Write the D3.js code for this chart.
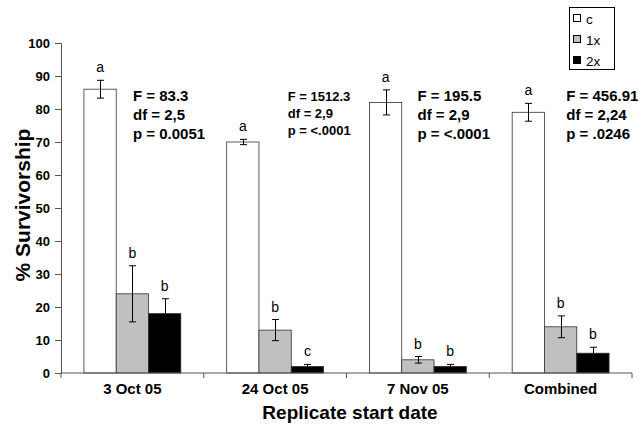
<!DOCTYPE html>
<html><head><meta charset="utf-8">
<script src="https://cdn.jsdelivr.net/npm/d3@7"></script>
<style>
body{margin:0;background:#fff;}
svg{display:block;font-family:"Liberation Sans",Arial,sans-serif;}
</style></head>
<body>
<svg id="chart" width="643" height="430"></svg>
<script>
// ---- data ----
const categories = ["3 Oct 05", "24 Oct 05", "7 Nov 05", "Combined"];
const seriesNames = ["c", "1x", "2x"];
const valuesC  = [86, 70, 82, 79];
const values1x = [24, 13, 4, 14];
const values2x = [18, 2, 2, 6];
const errC  = [2.7, 0.8, 3.8, 2.7];
const err1x = [8.5, 3.2, 1.0, 3.3];
const err2x = [4.5, 0.6, 0.6, 1.8];
const lettersC  = ["a", "a", "a", "a"];
const letters1x = ["b", "b", "b", "b"];
const letters2x = ["b", "c", "b", "b"];
const statF  = ["F = 83.3", "F = 1512.3", "F = 195.5", "F = 456.91"];
const statDf = ["df = 2,5", "df = 2,9", "df = 2,9", "df = 2,24"];
const statP  = ["p = 0.0051", "p = <.0001", "p = <.0001", "p = .0246"];
const yTicks = [0, 10, 20, 30, 40, 50, 60, 70, 80, 90, 100];

// ---- layout ----
(function(){
const svg = d3.select("#chart");
const mLeft = 61, mRight = 632, mTop = 43, mBottom = 373;
const colors = {"c": "#ffffff", "1x": "#c0c0c0", "2x": "#000000"};
const statOffsets = [72, 84, 71, 77]; // x offset of stat text from band start
const statSmall = [false, true, false, false];

const x = d3.scaleBand().domain(categories).range([mLeft, mRight]).padding(0);
const xs = d3.scaleBand().domain(seriesNames).range([0, x.bandwidth()]).paddingInner(0).paddingOuter(0.71);
const y = d3.scaleLinear().domain([0, 100]).range([mBottom, mTop]);

const vals = {"c": valuesC, "1x": values1x, "2x": values2x};
const errs = {"c": errC, "1x": err1x, "2x": err2x};
const lets = {"c": lettersC, "1x": letters1x, "2x": letters2x};

const data = [];
categories.forEach((cat, i) => {
  seriesNames.forEach(s => data.push({cat, i, s, v: vals[s][i], e: errs[s][i], l: lets[s][i]}));
});

// bars
svg.append("g").selectAll("rect").data(data).join("rect")
  .attr("x", d => x(d.cat) + xs(d.s))
  .attr("y", d => y(d.v))
  .attr("width", xs.bandwidth())
  .attr("height", d => y(0) - y(d.v))
  .attr("fill", d => colors[d.s])
  .attr("stroke", "#333")
  .attr("stroke-width", 0.8);

// error bars
const eg = svg.append("g").attr("stroke", "#000").attr("stroke-width", 1);
data.forEach(d => {
  const cx = Math.round(x(d.cat) + xs(d.s) + xs.bandwidth() / 2) + 0.5;
  const y1 = y(d.v + d.e), y2 = y(Math.max(0, d.v - d.e));
  eg.append("line").attr("x1", cx).attr("x2", cx).attr("y1", y1).attr("y2", y2);
  eg.append("line").attr("x1", cx - 3.5).attr("x2", cx + 3.5).attr("y1", y1).attr("y2", y1);
  eg.append("line").attr("x1", cx - 3.5).attr("x2", cx + 3.5).attr("y1", y2).attr("y2", y2);
});

// letters
svg.append("g").selectAll("text").data(data).join("text")
  .attr("x", d => x(d.cat) + xs(d.s) + xs.bandwidth() / 2)
  .attr("y", d => y(d.v + d.e) - 8)
  .attr("text-anchor", "middle")
  .attr("font-size", 14)
  .attr("fill", "#000")
  .text(d => d.l);

// axes
const yAxis = d3.axisLeft(y).tickValues(yTicks).tickSize(6).tickPadding(5).tickFormat(d3.format("d"));
const gy = svg.append("g").attr("transform", `translate(${mLeft},0)`).call(yAxis);
gy.select(".domain").attr("stroke", "#555");
gy.selectAll(".tick line").attr("stroke", "#555");
gy.selectAll(".tick text").attr("font-size", 13).attr("font-weight", "bold").attr("fill", "#000")
  .attr("font-family", "Liberation Sans, Arial, sans-serif");

const gx = svg.append("g").attr("transform", `translate(0,${mBottom})`);
gx.append("line").attr("x1", mLeft).attr("x2", mRight).attr("y1", 0).attr("y2", 0).attr("stroke", "#555");
const boundaries = categories.map(c => x(c)).concat([mRight]);
gx.selectAll("line.tk").data(boundaries).join("line").attr("class", "tk")
  .attr("x1", d => d).attr("x2", d => d).attr("y1", 0).attr("y2", 5).attr("stroke", "#555");
gx.selectAll("text").data(categories).join("text")
  .attr("x", d => x(d) + x.bandwidth() / 2)
  .attr("y", 21)
  .attr("text-anchor", "middle")
  .attr("font-size", 15).attr("font-weight", "bold")
  .text(d => d);

// axis titles
svg.append("text").attr("x", 350).attr("y", 419)
  .attr("text-anchor", "middle").attr("font-size", 19).attr("font-weight", "bold")
  .text("Replicate start date");
svg.append("text").attr("transform", `translate(30,205) rotate(-90)`)
  .attr("text-anchor", "middle").attr("font-size", 21).attr("font-weight", "bold")
  .text("% Survivorship");

// stats
categories.forEach((c, i) => {
  const sx = x(c) + statOffsets[i];
  const fs = statSmall[i] ? 13 : 15;
  const lh = statSmall[i] ? 17 : 19;
  const y0 = 101;
  [statF[i], statDf[i], statP[i]].forEach((t, k) => {
    svg.append("text").attr("x", sx).attr("y", y0 + k * lh)
      .attr("font-size", fs).attr("font-weight", "bold").text(t);
  });
});

// legend
const lg = svg.append("g").attr("transform", "translate(569,7)");
lg.append("rect").attr("x", 0.5).attr("y", 0.5).attr("width", 45).attr("height", 62)
  .attr("fill", "#fff").attr("stroke", "#000").attr("stroke-width", 1);
seriesNames.forEach((s, k) => {
  const yy = 7 + k * 21;
  lg.append("rect").attr("x", 4.5).attr("y", yy + 0.5).attr("width", 7).attr("height", 7)
    .attr("fill", colors[s]).attr("stroke", "#000").attr("stroke-width", 1);
  lg.append("text").attr("x", 17).attr("y", yy + 9.5).attr("font-size", 13.5).text(s);
});
})();
</script>
</body></html>
